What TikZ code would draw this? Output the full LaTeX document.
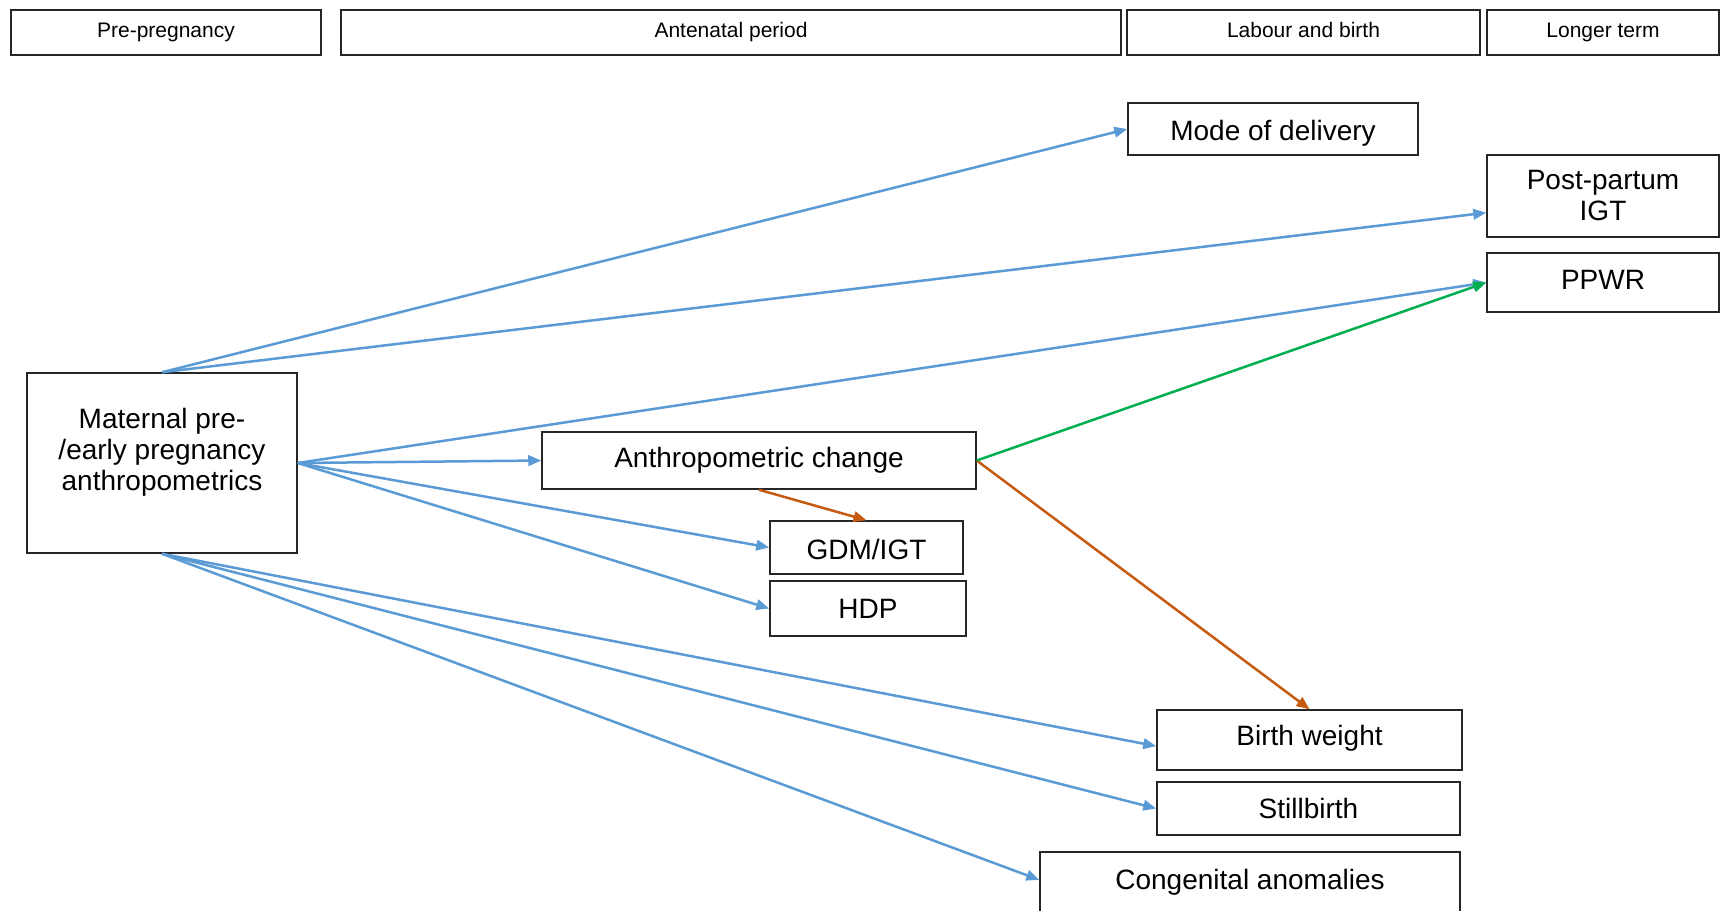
\documentclass[tikz,border=0pt]{standalone}
\usepackage{fontspec}
\setmainfont{Liberation Sans}
\usetikzlibrary{arrows.meta,calc}
\definecolor{linkblue}{HTML}{5B9BD5}
\definecolor{linkorange}{HTML}{C55A11}
\definecolor{linkgreen}{HTML}{00B050}
\definecolor{edgegray}{HTML}{262626}
% shift text vertically without changing its box size
\newcommand{\liftby}[2]{\raisebox{#1}[\height][\depth]{#2}}
\begin{document}
\begin{tikzpicture}[x=1pt,y=-1pt,
  hdr/.style={draw=edgegray,line width=1.4pt,minimum height=45pt,inner sep=0pt,
    text height=15pt,text depth=4.5pt,font=\fontsize{21}{25}\selectfont},
  box/.style={draw=edgegray,line width=1.5pt,fill=white,inner sep=0pt,align=center,
    font=\fontsize{28}{31}\selectfont},
  lbl/.style={inner sep=0pt,align=center,font=\fontsize{28}{31}\selectfont},
  link/.style={line width=2.5pt,-{Triangle[length=13pt,width=10.5pt]}},
  bluelink/.style={link,draw=linkblue,color=linkblue},
  orangelink/.style={link,draw=linkorange,color=linkorange},
  greenlink/.style={link,draw=linkgreen,color=linkgreen}]
\clip (0,0) rectangle (1720,910);
\fill[white] (0,0) rectangle (1720,910);

% period headers
\node[hdr,minimum width=310pt] (hpre) at (166,32.5) {Pre-pregnancy};
\node[hdr,minimum width=780pt] (hante) at (731,32.5) {Antenatal period};
\node[hdr,minimum width=353pt] (hlab) at (1303.5,32.5) {Labour and birth};
\node[hdr,minimum width=232pt] (hlong) at (1603,32.5) {Longer term};

% exposure
\node[box,minimum width=270pt,minimum height=180pt] (mat) at (162,463) {};
\node[lbl] (matlbl) at (162,452) {Maternal pre-\\/early pregnancy\\anthropometrics};

% outcomes
\node[box,minimum width=434pt,minimum height=57pt] (anthro) at (759,460.5) {Anthropometric change};
\node[box,minimum width=193pt,minimum height=53pt] (gdm) at (866.5,547.5) {\liftby{-2pt}{GDM/IGT}};
\node[box,minimum width=196pt,minimum height=55pt] (hdp) at (868,608.5) {HDP};
\node[box,minimum width=290pt,minimum height=52pt] (mode) at (1273,129) {\liftby{-4pt}{Mode of delivery}};
\node[box,minimum width=232pt,minimum height=82pt] (ppigt) at (1603,196) {Post-partum\\IGT};
\node[box,minimum width=232pt,minimum height=59pt] (ppwr) at (1603,282.5) {\liftby{3pt}{PPWR}};
\node[box,minimum width=305pt,minimum height=60pt] (bw) at (1309.5,740) {\liftby{2pt}{Birth weight}};
\node[box,minimum width=303pt,minimum height=53pt] (sb) at (1308.5,808.5) {Stillbirth};
\node[box,minimum width=420pt,minimum height=70pt] (ca) at (1250,887) {\liftby{5pt}{Congenital anomalies}};

% links from the exposure
\draw[bluelink] (mat.north) -- (mode.west);
\draw[bluelink] (mat.north) -- ($(ppigt.north west)!0.7!(ppigt.south west)$);
\draw[bluelink] (mat.east) -- (ppwr.west);
\draw[bluelink] (mat.east) -- (anthro.west);
\draw[bluelink] (mat.east) -- (gdm.west);
\draw[bluelink] (mat.east) -- (hdp.west);
\draw[bluelink] (mat.south) -- ($(bw.north west)!0.6!(bw.south west)$);
\draw[bluelink] (mat.south) -- (sb.west);
\draw[bluelink] (mat.south) -- ($(ca.north west)!0.4!(ca.south west)$);

% links from anthropometric change
\draw[orangelink] (anthro.south) -- (gdm.north);
\draw[orangelink] (anthro.east) -- (bw.north);
\draw[greenlink] (anthro.east) -- (ppwr.west);
\end{tikzpicture}
\end{document}
